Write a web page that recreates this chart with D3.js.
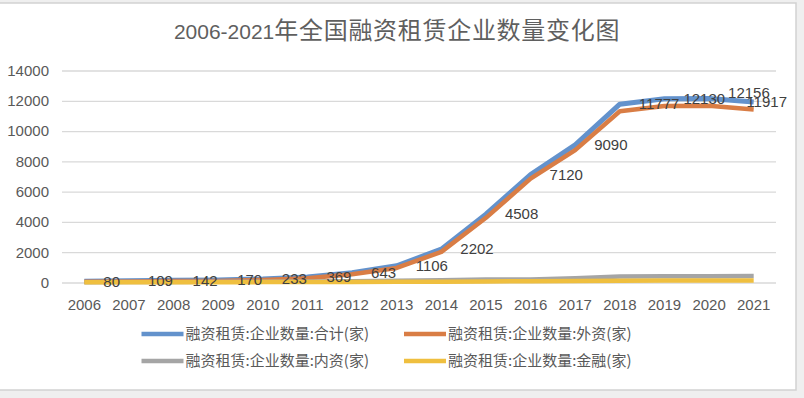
<!DOCTYPE html>
<html>
<head>
<meta charset="utf-8">
<script src="https://cdn.jsdelivr.net/npm/d3@7"></script>
<style>
  html, body { margin: 0; padding: 0; background: #efefef; }
  svg { display: block; }
</style>
</head>
<body>
<svg id="chart" width="804" height="398"></svg>
<script>
// ---- data ----
const years = ["2006","2007","2008","2009","2010","2011","2012","2013","2014","2015","2016","2017","2018","2019","2020","2021"];
const totalValues     = [80,109,142,170,233,369,643,1106,2202,4508,7120,9090,11777,12130,12156,11917];
const foreignValues   = [54,72,93,106,171,283,543,960,2020,4271,6857,8745,11311,11657,11671,11417];
const domesticValues  = [20,26,37,45,45,66,80,123,152,190,204,276,400,410,420,430];
const financeValues   = [10,12,14,20,25,30,35,45,55,70,85,100,120,125,130,135];
const yTickValues = [0,2000,4000,6000,8000,10000,12000,14000];
const seriesNames = ["融资租赁:企业数量:合计(家)","融资租赁:企业数量:外资(家)","融资租赁:企业数量:内资(家)","融资租赁:企业数量:金融(家)"];
const seriesColors = ["#6392cc","#d97d45","#a5a5a5","#efbf3f"];
const titleNum = "2006-2021";
const titleCjk = "年全国融资租赁企业数量变化图";

const seriesValues = [totalValues, foreignValues, domesticValues, financeValues];

const svg = d3.select("#chart");

// chart frame
svg.append("rect").attr("x", -1).attr("y", 3).attr("width", 797).attr("height", 387)
  .attr("fill", "#ffffff").attr("stroke", "#d2d2d2").attr("stroke-width", 1.5);

// title
const title = svg.append("text").attr("x", 397).attr("y", 38.5)
  .attr("text-anchor", "middle").attr("fill", "#5f5f5f");
title.append("tspan").text(titleNum)
  .attr("font-family", "Liberation Sans, Arial, sans-serif").attr("font-size", 21);
title.append("tspan").text(titleCjk)
  .attr("font-family", "Noto Sans CJK SC, sans-serif").attr("font-size", 24)
  .attr("letter-spacing", 0.7);

// scales
const x = d3.scaleBand().domain(years).range([62, 776]);
const cx = d => x(d) + x.bandwidth() / 2;
const y = d3.scaleLinear().domain([0, 14000]).range([282.5, 70.5]);

// y axis with gridlines
const yAxis = svg.append("g").attr("transform", "translate(62,0)")
  .call(d3.axisLeft(y).tickValues(yTickValues).tickFormat(d3.format("d"))
        .tickSize(-(776 - 62)).tickPadding(13));
yAxis.select(".domain").remove();
yAxis.selectAll(".tick line").attr("stroke", "#d9d9d9").attr("stroke-width", 1.3);
yAxis.selectAll(".tick text").attr("fill", "#595959")
  .attr("font-family", "Liberation Sans, Arial, sans-serif").attr("font-size", 15);

// x axis
const xAxis = svg.append("g").attr("transform", "translate(0,282.5)")
  .call(d3.axisBottom(x).tickSize(0).tickPadding(17));
xAxis.select(".domain").remove();
xAxis.selectAll(".tick text").attr("fill", "#595959")
  .attr("font-family", "Liberation Sans, Arial, sans-serif").attr("font-size", 15);

// lines
const line = d3.line()
  .x((d, i) => cx(years[i]))
  .y(d => y(d))
  .curve(d3.curveLinear);

seriesValues.forEach((vals, k) => {
  svg.append("path").datum(vals)
    .attr("d", line)
    .attr("fill", "none")
    .attr("stroke", seriesColors[k])
    .attr("stroke-width", k === 0 ? 5 : 4.5)
    .attr("stroke-linejoin", "round")
    .attr("stroke-linecap", "butt");
});

// data labels (total series), placed to the right of each point
const labels = svg.append("g")
  .attr("font-family", "Liberation Sans, Arial, sans-serif").attr("font-size", 15)
  .attr("fill", "#404040");
totalValues.forEach((v, i) => {
  const px = cx(years[i]) + 19;
  const t = labels.append("text")
    .attr("x", px)
    .attr("y", y(v))
    .attr("dy", "0.35em")
    .text(v);
  const w = t.node().getComputedTextLength();
  if (px + w > 787) t.attr("x", 787 - w);
  if (i === 14) t.attr("y", y(v) - 6);
});

// legend
const legendPos = [[141.5, 334], [404, 334], [141.5, 361], [404, 361]];
const legend = svg.append("g");
seriesNames.forEach((name, k) => {
  const [lx, ly] = legendPos[k];
  legend.append("line")
    .attr("x1", lx).attr("x2", lx + 42)
    .attr("y1", ly).attr("y2", ly)
    .attr("stroke", seriesColors[k]).attr("stroke-width", 4.5);
  legend.append("text")
    .attr("x", lx + 44).attr("y", ly).attr("dy", "0.36em")
    .attr("font-family", "Noto Sans CJK SC, sans-serif").attr("font-size", 15)
    .attr("fill", "#595959")
    .text(name);
});
</script>
</body>
</html>
